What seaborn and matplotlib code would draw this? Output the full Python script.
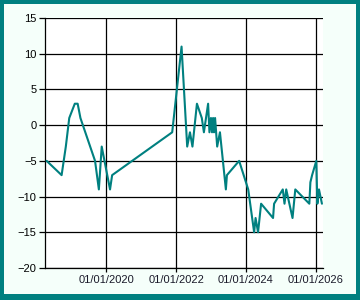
import matplotlib
matplotlib.use("Agg")
import matplotlib.pyplot as plt
import matplotlib.dates as mdates
from matplotlib.patches import Rectangle
import pandas as pd
import seaborn as sns

dates = [
    "2018-04-16", "2018-09-20", "2018-11-03", "2018-12-09", "2019-02-05",
    "2019-03-07", "2019-04-05", "2019-09-05", "2019-10-15", "2019-11-14",
    "2020-02-09", "2020-03-02", "2021-11-21", "2022-02-27", "2022-04-27",
    "2022-05-26", "2022-06-21", "2022-08-07", "2022-09-27", "2022-10-19",
    "2022-12-02", "2022-12-16", "2023-01-01", "2023-01-12", "2023-01-23",
    "2023-02-02", "2023-02-13", "2023-03-07", "2023-04-05", "2023-06-06",
    "2023-06-17", "2023-10-23", "2024-01-26", "2024-03-28", "2024-04-12",
    "2024-05-08", "2024-06-09", "2024-10-12", "2024-10-23", "2025-01-22",
    "2025-02-09", "2025-02-27", "2025-05-04", "2025-06-02", "2025-10-27",
    "2025-11-07", "2025-11-25", "2026-01-08", "2026-01-19", "2026-02-05",
    "2026-03-08",
]
values = [
    -5, -7, -3, 1, 3,
    3, 1, -5, -9, -3,
    -9, -7, -1, 11, -3,
    -1, -3, 3, 1, -1,
    3, -1, 1, -1, 1,
    -1, 1, -3, -1, -9,
    -7, -5, -9, -15, -13,
    -15, -11, -13, -11, -9,
    -11, -9, -13, -9, -11,
    -8, -7, -5, -11, -9,
    -11,
]
y_ticks = [-20, -15, -10, -5, 0, 5, 10, 15]
x_tick_dates = ["2020-01-01", "2022-01-01", "2024-01-01", "2026-01-01"]

df = pd.DataFrame({"date": pd.to_datetime(dates), "value": values})

sns.set_style("white")
plt.rcParams["font.family"] = ["Liberation Sans", "DejaVu Sans"]

W, H = 360, 300
fig = plt.figure(figsize=(3.6, 3.0), dpi=100, facecolor="#F5FFFA")
ax = fig.add_axes([45 / W, 1 - 268 / H, (322.7 - 45) / W, (268 - 18) / H])
ax.set_facecolor("white")

sns.lineplot(data=df, x="date", y="value", ax=ax, color="#008080",
             linewidth=1.5, zorder=3)

ax.set_xlim(pd.Timestamp("2018-03-30"), pd.Timestamp("2026-03-16"))
ax.set_ylim(-20, 15)
ax.set_yticks(y_ticks)
ax.set_xticks(pd.to_datetime(x_tick_dates))
ax.xaxis.set_major_formatter(mdates.DateFormatter("%d/%m/%Y"))
ax.grid(True, color="black", linewidth=0.9)
ax.set_axisbelow(True)
ax.set_xlabel("")
ax.set_ylabel("")
for s in ["top", "right"]:
    ax.spines[s].set_visible(False)
for s in ["left", "bottom"]:
    ax.spines[s].set_color("black")
    ax.spines[s].set_linewidth(0.9)
ax.tick_params(axis="y", length=4, width=0.9, color="black", labelsize=8,
               labelcolor="black", pad=2, left=True)
ax.tick_params(axis="x", length=3, width=0.9, color="black", labelsize=8,
               labelcolor="#1a1a2a", pad=2, bottom=True)

teal = "#008080"
for (x0, y0, w, h) in [(0, 0, 4, H), (W - 4.5, 0, 4.5, H), (0, 0, W, 6.5), (0, H - 4, W, 4)]:
    fig.add_artist(Rectangle((x0 / W, y0 / H), w / W, h / H,
                             transform=fig.transFigure, facecolor=teal,
                             edgecolor="none", zorder=10))

fig.savefig("out.png", dpi=100, facecolor=fig.get_facecolor())
